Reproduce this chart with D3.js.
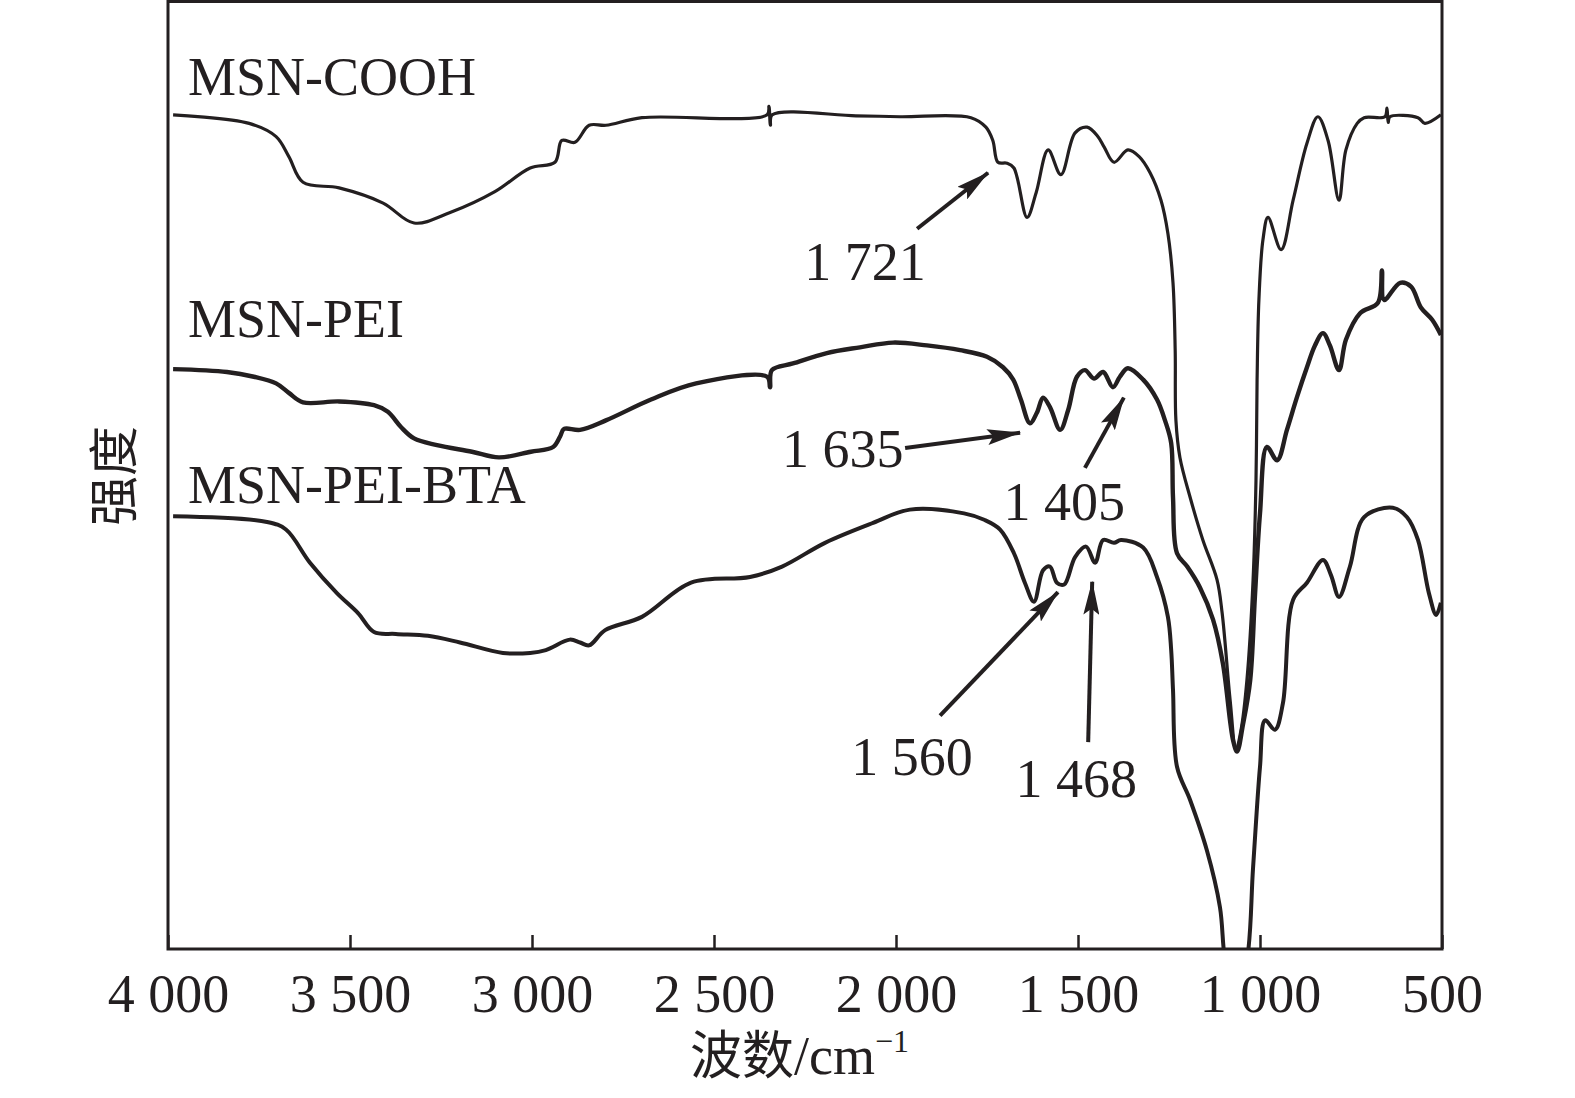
<!DOCTYPE html>
<html>
<head>
<meta charset="utf-8">
<script src="https://cdn.jsdelivr.net/npm/d3@7"></script>
<style>
  body { margin: 0; background: #fff; }
  svg { display: block; }
</style>
</head>
<body>
<div id="chart"></div>
<script>
// Spectra: [wavenumber cm-1, intensity a.u.]
const cooh = [
  [3986, 87.9], [3777, 87.0], [3703, 85.6], [3668, 83.5], [3629, 80.8], [3530, 80.2],
  [3409, 78.6], [3324, 76.5], [3225, 77.6], [3102, 79.8], [3005, 82.3], [2937, 82.9],
  [2918, 85.2], [2882, 85.0], [2843, 86.8], [2797, 86.8], [2698, 87.6], [2354, 87.9],
  [2349, 88.8], [2345, 86.8], [2340, 87.9], [2110, 87.8], [1989, 87.7], [1794, 87.6],
  [1753, 86.6], [1734, 85.2], [1720, 82.9], [1695, 82.8], [1676, 82.3], [1640, 77.1],
  [1615, 79.7], [1582, 84.2], [1547, 81.6], [1508, 86.0], [1475, 86.6], [1445, 85.6],
  [1428, 84.5], [1401, 82.9], [1363, 84.2], [1332, 83.5], [1302, 81.8], [1272, 78.9],
  [1253, 75.4], [1239, 70.2], [1233, 63.1], [1231, 55.7], [1220, 51.8], [1192, 47.6],
  [1157, 43.1], [1118, 38.9], [1104, 35.4], [1082, 26.2], [1066, 21.0], [1052, 23.1],
  [1036, 28.3], [1019, 38.9], [1011, 49.4], [1008, 60.0], [1003, 68.4], [992, 74.7],
  [978, 77.1], [942, 73.7], [909, 78.9], [871, 84.9], [841, 87.7], [813, 85.2],
  [783, 78.9], [764, 84.2], [733, 87.0], [714, 87.6], [657, 87.7], [651, 88.6],
  [648, 87.1], [643, 87.7], [566, 87.6], [547, 87.0], [503, 87.9]
];

const pei = [
  [3986, 61.1], [3838, 60.8], [3764, 60.3], [3703, 59.6], [3668, 58.6], [3629, 57.6],
  [3530, 57.7], [3434, 57.3], [3396, 56.6], [3360, 55.0], [3324, 53.8], [3261, 53.1],
  [3165, 52.4], [3091, 51.8], [3003, 52.4], [2942, 52.9], [2923, 54.0], [2912, 54.8],
  [2868, 54.7], [2797, 55.7], [2673, 57.9], [2549, 59.6], [2354, 60.3], [2346, 59.2],
  [2341, 61.0], [2283, 61.7], [2190, 62.8], [2099, 63.4], [2008, 63.9], [1915, 63.6],
  [1824, 63.1], [1750, 62.4], [1706, 61.3], [1678, 60.0], [1657, 57.9], [1632, 55.4],
  [1613, 56.5], [1596, 58.1], [1577, 57.1], [1549, 54.7], [1527, 56.8], [1503, 60.3],
  [1481, 61.0], [1456, 60.1], [1431, 60.8], [1404, 59.2], [1385, 60.3], [1363, 61.2],
  [1321, 60.0], [1283, 57.9], [1261, 55.7], [1244, 53.3], [1239, 47.6], [1228, 41.7],
  [1200, 40.3], [1165, 38.1], [1129, 34.7], [1102, 30.1], [1074, 22.0], [1063, 20.8],
  [1047, 23.6], [1027, 28.3], [1014, 37.1], [1000, 45.9], [981, 52.9], [953, 51.5],
  [926, 54.7], [898, 58.2], [871, 61.3], [849, 63.6], [827, 64.9], [808, 63.6],
  [783, 61.0], [764, 64.2], [725, 67.0], [676, 68.1], [665, 71.5], [659, 68.4],
  [615, 70.2], [585, 69.8], [558, 67.6], [527, 66.3], [503, 64.7]
];

const bta = [
  [3986, 45.6], [3728, 45.0], [3676, 44.2], [3610, 40.7], [3536, 37.5], [3478, 35.4],
  [3434, 33.4], [3374, 33.2], [3286, 33.0], [3198, 32.3], [3080, 31.2], [3005, 31.2],
  [2962, 31.5], [2896, 32.6], [2868, 32.3], [2843, 32.0], [2799, 33.6], [2698, 35.0],
  [2563, 38.6], [2401, 39.2], [2313, 40.3], [2195, 42.8], [2063, 44.9], [1962, 46.3],
  [1813, 45.9], [1756, 45.2], [1714, 44.2], [1676, 41.7], [1646, 38.6], [1621, 36.6],
  [1596, 39.9], [1577, 40.3], [1558, 38.6], [1538, 38.4], [1508, 41.3], [1478, 42.4],
  [1453, 40.7], [1431, 43.1], [1401, 42.8], [1382, 43.1], [1321, 42.3], [1283, 39.2],
  [1253, 35.0], [1244, 31.5], [1239, 27.3], [1228, 19.2], [1192, 15.7], [1146, 10.4],
  [1110, 4.4], [1096, -1.2], [1069, -5.4], [1036, -1.2], [1019, 8.6], [1000, 19.2],
  [986, 24.1], [959, 23.1], [937, 25.9], [909, 36.8], [871, 38.6], [827, 41.0],
  [805, 39.4], [783, 37.1], [753, 40.3], [714, 45.5], [635, 46.5], [596, 45.5],
  [566, 43.1], [536, 37.5], [516, 35.2], [503, 36.5]
];

const seriesNames = ["MSN-COOH", "MSN-PEI", "MSN-PEI-BTA"];
const seriesLabelY = [90.0, 64.5, 47.0];   // label baselines, intensity units

const xTicks = [4000, 3500, 3000, 2500, 2000, 1500, 1000, 500];

// peak call-outs: label, label position, arrow tail, arrow tip
const peakLabels = ["1 721", "1 635", "1 405", "1 560", "1 468"];
const peakLabelPos = [[2085, 70.5], [2146, 50.8], [1538, 45.2], [1956, 18.3], [1505, 16.0]];
const peakTail = [[1942, 75.9], [1975, 52.8], [1481, 50.7], [1879, 24.6], [1472, 21.8]];
const peakTip = [[1747, 81.8], [1659, 54.4], [1374, 58.1], [1555, 37.6], [1461, 38.7]];

// Dimensions
const width = 1575;
const height = 1098;
const margin = {top: 0, right: 133, bottom: 149, left: 168};
const innerWidth = width - margin.left - margin.right;
const innerHeight = height - margin.top - margin.bottom;
const ink = "#231f20";
const serif = "'Liberation Serif', 'Times New Roman', serif";
const cjk = "'Noto Sans CJK SC', sans-serif";

const svg = d3.select("#chart")
  .append("svg")
    .attr("width", width)
    .attr("height", height)
    .attr("viewBox", [0, 0, width, height]);

const defs = svg.append("defs");

defs.append("clipPath")
    .attr("id", "plot-clip")
  .append("rect")
    .attr("width", innerWidth)
    .attr("height", innerHeight);

defs.append("marker")
    .attr("id", "arrowhead")
    .attr("viewBox", "0 0 34 16")
    .attr("markerUnits", "userSpaceOnUse")
    .attr("markerWidth", 34)
    .attr("markerHeight", 16)
    .attr("refX", 33)
    .attr("refY", 8)
    .attr("orient", "auto")
  .append("path")
    .attr("d", "M0,0 L34,8 L0,16 L6,8 Z")
    .attr("fill", ink);

const innerChart = svg.append("g")
    .attr("transform", `translate(${margin.left}, ${margin.top})`);

// Scales
const xScale = d3.scaleLinear()
  .domain([4000, 500])
  .range([0, innerWidth]);

const yScale = d3.scaleLinear()
  .domain([0, 100])
  .range([innerHeight, 0]);

const line = d3.line()
  .x(d => xScale(d[0]))
  .y(d => yScale(d[1]))
  .curve(d3.curveCatmullRom.alpha(0.5));

// Spectra
const widths = [3.2, 4.4, 4];
[cooh, pei, bta].forEach((series, i) => {
  innerChart.append("path")
      .datum(series)
      .attr("clip-path", "url(#plot-clip)")
      .attr("fill", "none")
      .attr("stroke", ink)
      .attr("stroke-width", widths[i])
      .attr("stroke-linejoin", "round")
      .attr("d", line);
});

// Series labels
innerChart.selectAll(".series-label")
  .data(seriesNames)
  .join("text")
    .attr("class", "series-label")
    .attr("x", 20)
    .attr("y", (d, i) => yScale(seriesLabelY[i]))
    .attr("font-family", serif)
    .attr("font-size", 54)
    .attr("fill", ink)
    .text(d => d);

// Peak arrows and numbers
peakLabels.forEach((label, i) => {
  innerChart.append("line")
      .attr("x1", xScale(peakTail[i][0]))
      .attr("y1", yScale(peakTail[i][1]))
      .attr("x2", xScale(peakTip[i][0]))
      .attr("y2", yScale(peakTip[i][1]))
      .attr("stroke", ink)
      .attr("stroke-width", 4)
      .attr("marker-end", "url(#arrowhead)");

  innerChart.append("text")
      .attr("x", xScale(peakLabelPos[i][0]))
      .attr("y", yScale(peakLabelPos[i][1]))
      .attr("text-anchor", "middle")
      .attr("font-family", serif)
      .attr("font-size", 54)
      .attr("fill", ink)
      .text(label);
});

// x-axis, ticks pointing inward
const fmt = d => d3.format(",")(d).replace(",", " ");
const xAxis = d3.axisBottom(xScale)
  .tickValues(xTicks)
  .tickSize(-14)
  .tickPadding(25)
  .tickFormat(fmt);

const xAxisG = innerChart.append("g")
    .attr("transform", `translate(0, ${innerHeight})`)
    .call(xAxis);

xAxisG.select(".domain").remove();
xAxisG.selectAll(".tick line")
    .attr("stroke", ink)
    .attr("stroke-width", 2.5);
xAxisG.selectAll(".tick text")
    .attr("font-family", serif)
    .attr("font-size", 54)
    .attr("fill", ink);

// Frame
innerChart.append("rect")
    .attr("x", 0)
    .attr("y", 1.5)
    .attr("width", innerWidth)
    .attr("height", innerHeight - 1.5)
    .attr("fill", "none")
    .attr("stroke", ink)
    .attr("stroke-width", 3);

// Axis titles
const xTitle = svg.append("text")
    .attr("x", 690)
    .attr("y", 1074)
    .attr("fill", ink);
xTitle.append("tspan")
    .attr("font-family", cjk)
    .attr("font-size", 52)
    .text("波数");
xTitle.append("tspan")
    .attr("font-family", serif)
    .attr("font-size", 54)
    .text("/cm");
xTitle.append("tspan")
    .attr("font-family", serif)
    .attr("font-size", 32)
    .attr("dy", -22)
    .text("−1");

svg.append("text")
    .attr("transform", "translate(132, 476) rotate(-90)")
    .attr("text-anchor", "middle")
    .attr("font-family", cjk)
    .attr("font-size", 50)
    .attr("fill", ink)
    .text("强度");
</script>
</body>
</html>
